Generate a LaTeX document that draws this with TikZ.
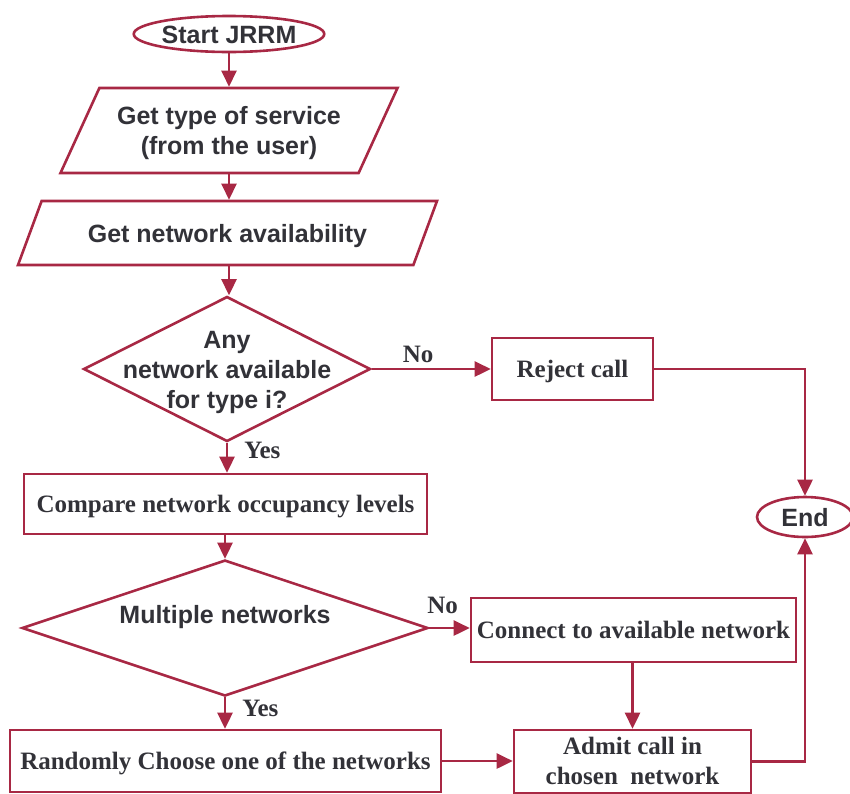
\documentclass[tikz,border=0pt]{standalone}
\usepackage{fontspec}
\setmainfont{Liberation Serif}
\setsansfont{Liberation Sans}
\usetikzlibrary{shapes.geometric}
\usetikzlibrary{arrows.meta}
\definecolor{flowred}{RGB}{168,40,68}
\definecolor{ink}{RGB}{50,50,56}
\tikzstyle{base}=[draw=flowred, line width=2.6pt, text=ink, align=center, inner sep=0pt,
                  text height=16.5pt, text depth=0pt, font=\bfseries\fontsize{25}{30}\selectfont]
\tikzstyle{sanstext}=[text=ink, align=center, text height=18pt, text depth=0pt,
                      font=\sffamily\bfseries\fontsize{25}{30}\selectfont]
\tikzstyle{terminal}=[base, sanstext, ellipse]
\tikzstyle{io}=[base, sanstext, trapezium, trapezium stretches body]
\tikzstyle{decision}=[base, diamond]
\tikzstyle{process}=[base, rectangle]
\tikzstyle{answer}=[text=ink, inner sep=0pt, font=\bfseries\fontsize{25}{30}\selectfont]
\tikzstyle{flow}=[draw=flowred, line width=2.6pt, -{Triangle[length=16pt, width=15pt]}]

\begin{document}
\begin{tikzpicture}[x=1pt, y=-1pt]
        \useasboundingbox (0, 0) rectangle (850, 793);
        % top of the chart
        \node[terminal, minimum width=186pt, minimum height=36pt] (start) at (229, 34) {Start JRRM};
        \node[io, trapezium left angle=51, trapezium right angle=129, text height=48pt,
              minimum width=337pt, minimum height=85pt] (service) at (229, 130.5) {Get type of service\\(from the user)};
        \node[io, trapezium left angle=37.3, trapezium right angle=142.7,
              minimum width=419pt, minimum height=64pt] (netavail) at (227.5, 233) {Get network availability};
        \node[decision, minimum width=287pt, minimum height=145pt,
              label={[sanstext, text height=78pt]center:{Any\\network available\\for type i?}}] (anyavail) at (227, 369) {};
        \node[process, minimum width=161pt, minimum height=62pt] (reject) at (572.5, 369) {Reject call};
        \node[terminal, minimum width=96pt, minimum height=40pt] (stop) at (805, 517) {End};
        % lower part
        \node[process, minimum width=403pt, minimum height=60pt] (compare) at (225.5, 504) {Compare network occupancy levels};
        \node[decision, minimum width=406pt, minimum height=136pt,
              label={[sanstext, yshift=14pt]center:Multiple networks}] (multiple) at (225, 628) {};
        \node[process, minimum width=325pt, minimum height=64pt] (connect) at (633.5, 630) {Connect to available network};
        \node[process, minimum width=431pt, minimum height=62pt] (randomly) at (225.5, 761) {Randomly Choose one of the networks};
        \node[process, text height=46.5pt, minimum width=237pt, minimum height=63pt] (admit) at (632.5, 761.5) {Admit call in\\chosen~ network};
        % connectors
        \draw[flow] (start) -- (start |- service.north);
        \draw[flow] (service.south -| start) -- (start |- netavail.north);
        \draw[flow] (netavail.south -| start) -- (start |- anyavail.north);
        \draw[flow] (anyavail.east) -- node[answer, pos=0.39, above=5pt] {No} (reject.west |- anyavail.east);
        \draw[flow] (reject.east) -| (stop.north);
        \draw[flow] (anyavail.south) -- node[answer, pos=0.26, right=16pt] {Yes} (anyavail.south |- compare.north);
        \draw[flow] (compare.south -| multiple.north) -- (multiple.north);
        \draw[flow] (multiple.east) -- node[answer, pos=0.33, above=13pt] {No} (connect.west |- multiple.east);
        \draw[flow] (multiple.south) -- node[answer, pos=0.35, right=16pt] {Yes} (multiple.south |- randomly.north);
        \draw[flow] (randomly.east) -- (admit.west |- randomly.east);
        \draw[flow] (connect.south -| admit.north) -- (admit.north);
        \draw[flow] (admit.east) -| (stop.south);
    \end{tikzpicture}
\end{document}
